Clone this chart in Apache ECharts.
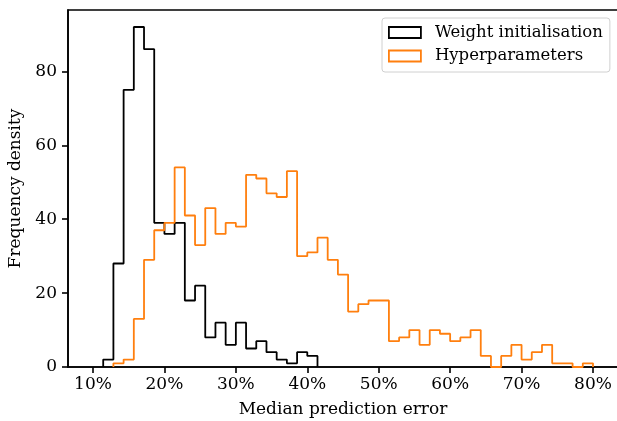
<!DOCTYPE html>
<html>
<head>
<meta charset="utf-8">
<script src="https://cdn.jsdelivr.net/npm/echarts@6/dist/echarts.min.js"></script>
<style>html,body{margin:0;padding:0;background:#fff}#c{width:617px;height:421px}</style>
</head>
<body>
<div id="c"></div>
<script>
// Histogram bins: 49 equal bins from 10% to 80%
const binLow = 10;
const binHigh = 80;
const binCount = 49;
// Frequency density per bin
const weightInit = [0, 2, 28, 75, 92, 86, 39, 36, 39, 18, 22, 8, 12, 6, 12, 5, 7, 4, 2, 1, 4, 3,
  0, 0, 0, 0, 0, 0, 0, 0, 0, 0, 0, 0, 0, 0, 0, 0, 0, 0, 0, 0, 0, 0, 0, 0, 0, 0, 0];
const hyperParams = [0, 0, 1, 2, 13, 29, 37, 39, 54, 41, 33, 43, 36, 39, 38, 52, 51, 47, 46, 53, 30, 31,
  35, 29, 25, 15, 17, 18, 18, 7, 8, 10, 6, 10, 9, 7, 8, 10, 3, 0, 3, 6, 2, 4, 6, 1, 1, 0, 1];
const xTicks = [10, 20, 30, 40, 50, 60, 70, 80];
const yTicks = [0, 20, 40, 60, 80];
const seriesNames = ['Weight initialisation', 'Hyperparameters'];

const binW = (binHigh - binLow) / binCount;
function stepOutline(counts) {
  let first = counts.findIndex(v => v > 0);
  let last = counts.length - 1;
  while (last > 0 && counts[last] === 0) last--;
  const pts = [];
  const e = i => binLow + i * binW;
  pts.push([e(first), 0]);
  for (let i = first; i <= last; i++) {
    pts.push([e(i), counts[i]]);
    pts.push([e(i + 1), counts[i]]);
  }
  pts.push([e(last + 1), 0]);
  return pts;
}

const font = 'DejaVu Serif';
const chart = echarts.init(document.getElementById('c'), null, {renderer: 'canvas'});
chart.setOption({
  animation: false,
  backgroundColor: '#fff',
  grid: {left: 68, top: 10, width: 550, height: 357, show: true, borderColor: '#000', borderWidth: 1.6,
         backgroundColor: 'transparent', containLabel: false, outerBoundsMode: 'none'},
  legend: {
    orient: 'vertical', left: 382, top: 18,
    padding: [6, 7, 7.5, 6], itemGap: 6.5, itemWidth: 32, itemHeight: 11,
    backgroundColor: 'rgba(255,255,255,0.8)', borderColor: '#d0d0d0', borderWidth: 1, borderRadius: 3,
    textStyle: {fontFamily: font, fontSize: 16.5, color: '#000', padding: [0, 0, 0, 9]},
    data: [
      {name: seriesNames[0], icon: 'rect', itemStyle: {color: 'rgba(0,0,0,0)', borderColor: '#000', borderWidth: 1.8}},
      {name: seriesNames[1], icon: 'rect', itemStyle: {color: 'rgba(0,0,0,0)', borderColor: '#ff7f0e', borderWidth: 1.8}}
    ]
  },
  xAxis: {
    type: 'value', min: 6.5, max: 83.5,
    name: 'Median prediction error', nameLocation: 'middle', nameGap: 34,
    nameTextStyle: {fontFamily: font, fontSize: 17, color: '#000'},
    axisLine: {show: true, lineStyle: {color: '#000', width: 1.6}},
    axisTick: {show: true, length: 6, lineStyle: {color: '#000', width: 1.6}, customValues: xTicks},
    axisLabel: {fontFamily: font, fontSize: 17, color: '#000', margin: 9, customValues: xTicks, formatter: v => v + '%'},
    splitLine: {show: false}
  },
  yAxis: {
    type: 'value', min: 0, max: 96.6,
    name: 'Frequency density', nameLocation: 'middle', nameGap: 42,
    nameTextStyle: {fontFamily: font, fontSize: 17, color: '#000'},
    axisLine: {show: true, lineStyle: {color: '#000', width: 1.6}},
    axisTick: {show: true, length: 6, lineStyle: {color: '#000', width: 1.6}, customValues: yTicks},
    axisLabel: {fontFamily: font, fontSize: 17, color: '#000', margin: 11, customValues: yTicks},
    splitLine: {show: false}
  },
  series: [
    {name: seriesNames[0], type: 'line', data: stepOutline(weightInit), showSymbol: false, symbol: 'none',
     lineStyle: {color: '#000', width: 1.8}, itemStyle: {color: '#000'}, z: 2},
    {name: seriesNames[1], type: 'line', data: stepOutline(hyperParams), showSymbol: false, symbol: 'none',
     lineStyle: {color: '#ff7f0e', width: 1.8}, itemStyle: {color: '#ff7f0e'}, z: 3}
  ]
});
</script>
</body>
</html>
